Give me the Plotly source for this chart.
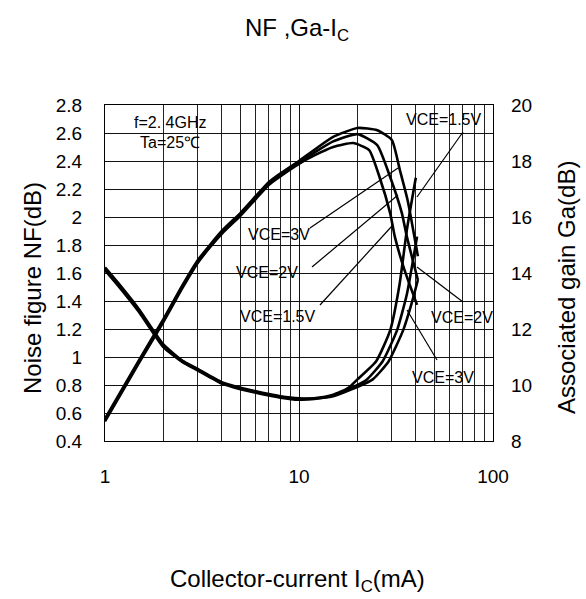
import plotly.graph_objects as go

# ---------------- data ----------------
ic_tick_vals = [1, 10, 100]
ic_tick_text = ["1", "10", "100"]
nf_tick_vals = [0.4, 0.6, 0.8, 1.0, 1.2, 1.4, 1.6, 1.8, 2.0, 2.2, 2.4, 2.6, 2.8]
nf_tick_text = ["0.4", "0.6", "0.8", "1", "1.2", "1.4", "1.6", "1.8", "2", "2.2", "2.4", "2.6", "2.8"]
ga_tick_vals = [8, 10, 12, 14, 16, 18, 20]
ga_tick_text = ["8", "10", "12", "14", "16", "18", "20"]

# Noise figure (dB) vs collector current (mA)
nf_ic_15 = [1, 1.2, 1.5, 2, 2.5, 3, 4, 5, 6, 7, 8, 10, 12, 15, 18, 20, 25, 29.5, 33, 36, 40]
nf_15 = [1.63, 1.50, 1.33, 1.08, 0.97, 0.91, 0.815, 0.775, 0.75, 0.73, 0.715, 0.70, 0.705, 0.73, 0.78, 0.84, 0.97, 1.19, 1.52, 1.91, 2.28]
nf_ic_2 = [1, 1.2, 1.5, 2, 2.5, 3, 4, 5, 6, 7, 8, 10, 12, 15, 18, 22.4, 27, 32, 36, 40.6]
nf_2 = [1.62, 1.49, 1.32, 1.07, 0.965, 0.905, 0.81, 0.77, 0.745, 0.725, 0.71, 0.695, 0.70, 0.725, 0.77, 0.84, 0.97, 1.19, 1.45, 1.86]
nf_ic_3 = [1, 1.2, 1.5, 2, 2.5, 3, 4, 5, 6, 7, 8, 10, 12, 15, 18, 24, 29, 34.4, 38, 41]
nf_3 = [1.64, 1.51, 1.34, 1.09, 0.975, 0.915, 0.82, 0.78, 0.755, 0.735, 0.72, 0.705, 0.705, 0.72, 0.76, 0.84, 0.97, 1.19, 1.38, 1.55]

# Associated gain (dB) vs collector current (mA)
ga_ic_15 = [1, 1.5, 2, 2.5, 3, 4, 5, 6, 7, 8, 10, 12, 15, 19, 23, 26, 29.5, 31.2, 35, 40.6]
ga_15 = [8.75, 10.85, 12.3, 13.5, 14.4, 15.4, 16.05, 16.65, 17.15, 17.45, 17.9, 18.2, 18.5, 18.64, 18.39, 17.43, 16.14, 15.29, 14.1, 12.86]
ga_ic_2 = [1, 1.5, 2, 2.5, 3, 4, 5, 6, 7, 8, 10, 12, 15, 20, 25.3, 29.5, 33.9, 36, 41]
ga_2 = [8.7, 10.8, 12.25, 13.45, 14.35, 15.45, 16.1, 16.7, 17.2, 17.5, 17.95, 18.3, 18.7, 18.96, 18.57, 17.43, 16.14, 15.29, 13.75]
ga_ic_3 = [1, 1.5, 2, 2.5, 3, 4, 5, 6, 7, 8, 10, 12, 15, 20, 25.3, 30.1, 33.1, 36.3, 41]
ga_3 = [8.8, 10.9, 12.35, 13.55, 14.45, 15.5, 16.15, 16.75, 17.25, 17.55, 18.0, 18.4, 18.86, 19.18, 19.1, 18.75, 17.68, 16.6, 14.6]

# ---------------- layout helpers (pixel -> paper) ----------------
W, H = 586, 599
L, R, T, B = 105, 493, 105, 441


def px(x):
    return (x - L) / (R - L)


def py(y):
    return (B - y) / (B - T)


FONT = "Liberation Sans, Arial, sans-serif"
LINE = dict(color="black", width=2.6)

fig = go.Figure()
for xs, ys in [(nf_ic_15, nf_15), (nf_ic_2, nf_2), (nf_ic_3, nf_3)]:
    fig.add_trace(go.Scatter(x=xs, y=ys, mode="lines", line=dict(shape="spline", smoothing=0.5, **LINE),
                             showlegend=False, hoverinfo="skip"))
for xs, ys in [(ga_ic_15, ga_15), (ga_ic_2, ga_2), (ga_ic_3, ga_3)]:
    fig.add_trace(go.Scatter(x=xs, y=ys, yaxis="y2", mode="lines",
                             line=dict(shape="spline", smoothing=0.5, **LINE),
                             showlegend=False, hoverinfo="skip"))

shapes = []
# white boxes hiding the grid behind labels
boxes = [
    (112, 105, 235, 155),
    (395, 105, 493, 132),
    (243, 222, 320, 248),
    (230, 256, 315, 288),
    (233, 303, 337, 335),
    (427, 302, 493, 337),
    (408, 360, 487, 392),
]
for x0, y0, x1, y1 in boxes:
    shapes.append(dict(type="rect", xref="paper", yref="paper", x0=px(x0), x1=px(x1), y0=py(y1), y1=py(y0),
                       fillcolor="white", line=dict(width=0), layer="between"))
# leader lines
leaders = [
    (463, 132, 417, 197),
    (310, 228, 398, 168),
    (312, 267, 398, 195),
    (320, 305, 392, 226),
    (417, 267, 463, 302),
    (407, 310, 437, 360),
]
for x0, y0, x1, y1 in leaders:
    shapes.append(dict(type="line", xref="paper", yref="paper", x0=px(x0), y0=py(y0), x1=px(x1), y1=py(y1),
                       line=dict(color="black", width=1.2), layer="above"))

ann = []


def text(x, y, s, size, **kw):
    d = dict(xref="paper", yref="paper", x=px(x), y=py(y), text=s, showarrow=False,
             font=dict(family=FONT, size=size, color="black"), xanchor="center", yanchor="middle")
    d.update(kw)
    ann.append(d)


text(170, 122, "f=2. 4GHz", 16)
text(170, 142, "Ta=25℃", 16)
text(443, 120, "VCE=1.5V", 16)
text(279, 234, "VCE=3V", 16)
text(267, 272, "VCE=2V", 16)
text(277, 316, "VCE=1.5V", 16)
text(462, 317, "VCE=2V", 16)
text(443, 377, "VCE=3V", 16)
# titles
text(297, 30, "NF ,Ga-I<sub>C</sub>", 24)
text(297, 580, "Collector-current I<sub>C</sub>(mA)", 24)
text(32, 288, "Noise figure NF(dB)", 24, textangle=-90)
text(566, 288, "Associated gain Ga(dB)", 24, textangle=-90)

fig.update_layout(
    width=W, height=H,
    margin=dict(l=L, r=W - R, t=T, b=H - B, pad=0),
    paper_bgcolor="white", plot_bgcolor="white",
    font=dict(family=FONT, size=19, color="black"),
    xaxis=dict(type="log", range=[0, 2], tickvals=ic_tick_vals, ticktext=ic_tick_text,
               showgrid=True, gridcolor="#111", gridwidth=1,
               minor=dict(dtick="D1", showgrid=True, gridcolor="#222", gridwidth=1, ticks=""),
               showline=True, linecolor="black", linewidth=1, mirror=True,
               ticks="", ticklabelstandoff=18, zeroline=False),
    yaxis=dict(range=[0.4, 2.8], tickvals=nf_tick_vals, ticktext=nf_tick_text,
               showgrid=True, gridcolor="#111", gridwidth=1,
               showline=True, linecolor="black", linewidth=1, mirror=True,
               ticks="", ticklabelstandoff=18, zeroline=False),
    yaxis2=dict(range=[8, 20], tickvals=ga_tick_vals, ticktext=ga_tick_text, overlaying="y", side="right",
                showgrid=False, showline=False, ticks="", ticklabelstandoff=17, zeroline=False),
    shapes=shapes, annotations=ann,
)

fig.write_html("out.html")
